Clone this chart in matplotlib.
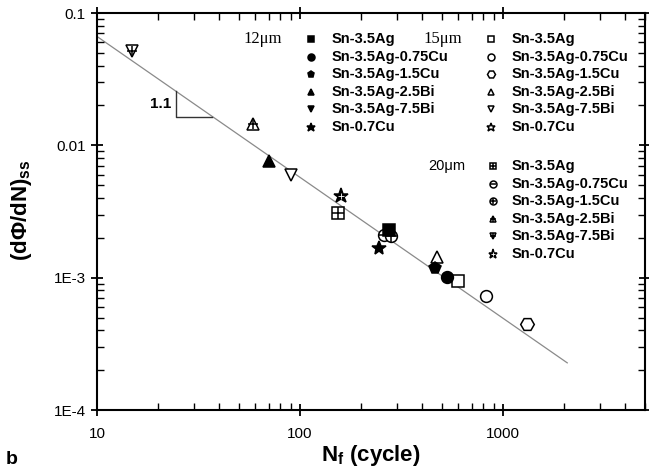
import numpy as np
import matplotlib
matplotlib.use("Agg")
import matplotlib.pyplot as plt
from matplotlib.ticker import FixedLocator, FuncFormatter, LogLocator, NullFormatter

plt.rcParams['font.family'] = ['Liberation Sans', 'DejaVu Sans']
plt.rcParams['mathtext.fontset'] = 'custom'
plt.rcParams['mathtext.rm'] = 'Liberation Sans:bold'
plt.rcParams['mathtext.it'] = 'Liberation Sans:bold'
plt.rcParams['mathtext.bf'] = 'Liberation Sans:bold'

# Alloys (same order in every grain-size group)
alloys = ["Sn-3.5Ag", "Sn-3.5Ag-0.75Cu", "Sn-3.5Ag-1.5Cu",
          "Sn-3.5Ag-2.5Bi", "Sn-3.5Ag-7.5Bi", "Sn-0.7Cu"]
nan = np.nan

# Cycles to failure N_f and steady-state damage rate (dPhi/dN)_ss
nf_12 = [274, 530, 462, 70.4, nan, 245]
rate_12 = [0.00228, 0.00101, 0.00118, 0.00757, nan, 0.00167]

nf_15 = [600, 825, 1313, 473, 90.3, nan]
rate_15 = [0.00094, 0.000725, 0.000446, 0.00143, 0.00594, nan]

nf_20 = [154, 259, 281, 58.7, 14.9, 159]
rate_20 = [0.00307, 0.00209, 0.00206, 0.0144, 0.0512, 0.00412]

grain_labels = ["12\u03bcm", "15\u03bcm", "20\u03bcm"]

# Power-law fit  rate = rate_at_10 * (N/10)^(-expo)
fit_rate_at_10 = 0.0665
fit_expo = 1.065
fit_range = [10, 2070]
slope_label = "1.1"

# marker recipes: filled (12), open (15), crossed (20)
styles_12 = [[dict(marker='s')], [dict(marker='o')], [dict(marker='p')],
             [dict(marker='^')], [dict(marker='v')], [dict(marker='*', scale=1.25)]]
styles_15 = [[dict(marker='s', open=True)], [dict(marker='o', open=True)],
             [dict(marker='H', open=True, scale=1.15)], [dict(marker='^', open=True)],
             [dict(marker='v', open=True)], [dict(marker='*', open=True, scale=1.25)]]
styles_20 = [[dict(marker='s', open=True), dict(marker='+')],
             [dict(marker='o', open=True), dict(marker='_')],
             [dict(marker='o', open=True), dict(marker='+')],
             [dict(marker='^', open=True), dict(marker='+', scale=0.9)],
             [dict(marker='v', open=True), dict(marker='+', scale=0.9)],
             [dict(marker='*', scale=1.3),
              dict(marker='+', scale=0.45, color='white', mew=0.6)]]


def fit(n):
    return fit_rate_at_10 * (np.asarray(n, dtype=float) / 10.0) ** (-fit_expo)


def draw_marker(ax, x, y, recipe, size, **kw):
    for part in recipe:
        s = size * part.get('scale', 1.0)
        col = part.get('color', 'black')
        mew = part.get('mew', 1.1)
        if part.get('open'):
            ax.plot(x, y, linestyle='none', marker=part['marker'], ms=s,
                    mfc='white', mec=col, mew=mew, **kw)
        else:
            ax.plot(x, y, linestyle='none', marker=part['marker'], ms=s,
                    mfc=col, mec=col, mew=mew, **kw)


W, H = 649, 469
fig = plt.figure(figsize=(W / 100, H / 100), dpi=100)
ax_l, ax_r, ax_t, ax_b = 97, 645, 13, 410
ax = fig.add_axes([ax_l / W, 1 - ax_b / H, (ax_r - ax_l) / W, (ax_b - ax_t) / H])

ax.set_xscale('log')
ax.set_yscale('log')
ax.set_xlim(10, 5000)
ax.set_ylim(1e-4, 0.1)

# fit line
nfit = np.logspace(np.log10(fit_range[0]), np.log10(fit_range[1]), 50)
ax.plot(nfit, fit(nfit), color='#8a8a8a', lw=0.9, zorder=1)

# slope triangle under the fit line
x_a, x_b = 24.5, 37.0
y_top = float(fit(x_a))
y_bot = 0.0163
ax.plot([x_a, x_a, x_b], [y_top, y_bot, y_bot], color='#333333', lw=1.0)
ax.text(x_a / 1.05, np.sqrt(y_top * y_bot), slope_label, ha='right', va='center',
        fontsize=11, fontweight='bold')

# data points
for nf, rt, styles in [(nf_20, rate_20, styles_20), (nf_15, rate_15, styles_15),
                       (nf_12, rate_12, styles_12)]:
    for x, y, rec in zip(nf, rt, styles):
        if np.isfinite(x):
            draw_marker(ax, x, y, rec, 8.5, zorder=3)

# axes styling
for sp in ax.spines.values():
    sp.set_linewidth(1.5)
ax.xaxis.set_major_locator(FixedLocator([10, 100, 1000]))
ax.xaxis.set_major_formatter(FuncFormatter(lambda v, p: f"{v:g}"))
ax.xaxis.set_minor_locator(LogLocator(base=10, subs=np.arange(2, 10)))
ax.xaxis.set_minor_formatter(NullFormatter())
ylab = {1e-4: "1E-4", 1e-3: "1E-3", 1e-2: "0.01", 1e-1: "0.1"}
ax.yaxis.set_major_locator(FixedLocator(list(ylab)))
ax.yaxis.set_major_formatter(FuncFormatter(lambda v, p: ylab.get(v, "")))
ax.yaxis.set_minor_locator(LogLocator(base=10, subs=np.arange(2, 10)))
ax.yaxis.set_minor_formatter(NullFormatter())
ax.tick_params(which='major', direction='inout', length=9, width=1.3,
               top=True, right=True, labelsize=11)
ax.tick_params(axis='x', which='major', pad=8)
ax.tick_params(which='minor', direction='in', length=5, width=1.0,
               top=True, right=True)

fig.text(371 / W, 1 - 455 / H, "N$_f$ (cycle)", ha='center', va='center',
         fontsize=16, fontweight='bold')
fig.text(22 / W, 1 - 210 / H, "(d\u03a6/dN)$_{ss}$", ha='center', va='center',
         rotation=90, fontsize=16, fontweight='bold')
fig.text(12 / W, 1 - 459 / H, "b", ha='center', va='center', fontsize=14,
         fontweight='bold')


# key blocks, positioned in figure pixels
def fx(px):
    return px / W


def fy(py):
    return 1 - py / H


blocks = [
    (grain_labels[0], 263, 311, 332, 39, styles_12, 'serif'),
    (grain_labels[1], 443, 491, 512, 39, styles_15, 'serif'),
    (grain_labels[2], 447, 493, 512, 166, styles_20, 'sans'),
]
row_h = 17.6
for label, gx, mx, tx, y0, styles, fam in blocks:
    if fam == 'serif':
        family, gsize = ['Liberation Serif', 'DejaVu Serif'], 12
    else:
        family, gsize = ['Liberation Sans', 'DejaVu Sans'], 10.5
    fig.text(fx(gx), fy(y0), label, ha='center', va='center', fontsize=gsize,
             family=family)
    for i, (name, rec) in enumerate(zip(alloys, styles)):
        yy = y0 + i * row_h
        draw_marker(ax, fx(mx), fy(yy), rec, 5.0, transform=fig.transFigure,
                    clip_on=False, zorder=4)
        fig.text(fx(tx), fy(yy), name, ha='left', va='center', fontsize=10.5,
                 fontweight='bold')

fig.savefig("out.png", dpi=100)
